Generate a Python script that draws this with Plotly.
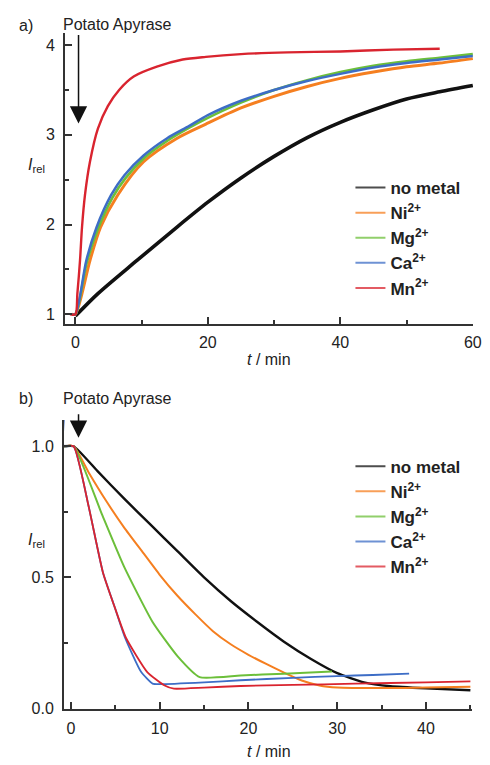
import plotly.graph_objects as go

W, H = 490, 765
FONT = "Liberation Sans, Arial, Helvetica, sans-serif"

names = ["no metal", "Ni<sup>2+</sup>", "Mg<sup>2+</sup>", "Ca<sup>2+</sup>", "Mn<sup>2+</sup>"]
colors = ["#111111", "#F57F20", "#6CBF3A", "#3D6DC6", "#D9242F"]

# ---------- panel a data (t / min, I_rel) ----------
a_black_t = [0, 3.4, 9.3, 15.3, 20, 25, 30, 35, 40, 45, 50, 55, 60]
a_black_v = [0.98, 1.23, 1.60, 1.97, 2.25, 2.52, 2.76, 2.97, 3.14, 3.28, 3.40, 3.48, 3.55]
a_ni_t = [-0.5, 0, 2.2, 3.8, 6.4, 10.3, 15.3, 19.7, 25, 30, 35, 40, 45, 50, 55, 60]
a_ni_v = [1.0, 1.0, 1.60, 1.97, 2.33, 2.70, 2.96, 3.12, 3.30, 3.43, 3.54, 3.63, 3.70, 3.76, 3.80, 3.85]
a_mg_t = [-0.5, 0, 1.7, 3.4, 5.6, 7.6, 10.5, 14, 17.2, 20, 25, 30, 35, 40, 45, 50, 55, 60]
a_mg_v = [1.0, 1.0, 1.57, 1.95, 2.30, 2.52, 2.75, 2.94, 3.08, 3.19, 3.36, 3.50, 3.61, 3.70, 3.77, 3.82, 3.86, 3.90]
a_ca_t = [-0.5, 0, 1.65, 3.2, 5.4, 7.4, 10.3, 13.8, 17.2, 20, 25, 30, 35, 40, 45, 50, 55, 60]
a_ca_v = [1.0, 1.0, 1.60, 1.97, 2.33, 2.55, 2.77, 2.96, 3.10, 3.22, 3.38, 3.50, 3.60, 3.68, 3.75, 3.80, 3.84, 3.88]
a_mn_t = [-0.8, 0, 0.3, 0.7, 1.0, 1.45, 2.2, 3.4, 4.9, 6.6, 8.8, 12.3, 16.2, 19.7, 25, 32, 40, 48, 55]
a_mn_v = [1.0, 1.0, 1.23, 1.60, 1.97, 2.33, 2.70, 3.07, 3.32, 3.50, 3.65, 3.76, 3.84, 3.87, 3.90, 3.92, 3.93, 3.95, 3.96]

# ---------- panel b data (t / min, I_rel) ----------
b_black_t = [-0.8, 0.3, 3, 6, 9, 12, 15, 18, 21, 24, 27, 30, 33, 36, 40, 45]
b_black_v = [1.0, 1.0, 0.905, 0.80, 0.70, 0.60, 0.50, 0.41, 0.33, 0.255, 0.19, 0.135, 0.10, 0.085, 0.077, 0.070]
b_ni_t = [-0.8, 0.3, 2, 4, 6, 8, 10, 12, 14, 16, 18, 20, 22, 24, 26, 28, 30, 35, 40, 45]
b_ni_v = [1.0, 1.0, 0.90, 0.79, 0.69, 0.60, 0.51, 0.43, 0.36, 0.295, 0.245, 0.205, 0.17, 0.137, 0.107, 0.088, 0.080, 0.078, 0.080, 0.083]
b_mg_t = [-0.8, 0.3, 3.5, 6.0, 9.2, 12.0, 14.5, 19.1, 24, 29.4]
b_mg_v = [1.0, 1.0, 0.74, 0.54, 0.33, 0.20, 0.12, 0.126, 0.133, 0.141]
b_ca_t = [-0.8, -0.8, 0.3, 2.0, 3.6, 4.9, 6.1, 7.9, 9.2, 10, 15, 19.1, 25, 30, 34, 38.1]
b_ca_v = [1.1, 1.0, 1.0, 0.77, 0.52, 0.39, 0.27, 0.14, 0.095, 0.093, 0.10, 0.108, 0.117, 0.124, 0.128, 0.133]
b_mn_t = [-0.8, 0.3, 2.0, 3.6, 5.0, 6.2, 8.6, 10.5, 11.6, 15, 19.1, 25, 32, 40, 45]
b_mn_v = [1.0, 1.0, 0.77, 0.52, 0.38, 0.27, 0.139, 0.089, 0.076, 0.080, 0.086, 0.090, 0.095, 0.100, 0.104]

a_series = [(a_black_t, a_black_v, 3.6), (a_ni_t, a_ni_v, 3.0), (a_mg_t, a_mg_v, 2.6),
            (a_ca_t, a_ca_v, 2.5), (a_mn_t, a_mn_v, 2.4)]
b_series = [(b_black_t, b_black_v, 2.4), (b_ni_t, b_ni_v, 2.0), (b_mg_t, b_mg_v, 2.0),
            (b_ca_t, b_ca_v, 1.8), (b_mn_t, b_mn_v, 1.8)]

fig = go.Figure()
for (t, v, w), n, c in zip(a_series, names, colors):
    fig.add_trace(go.Scatter(x=t, y=v, mode="lines", name=n, showlegend=False,
                             line=dict(color=c, width=w, shape="spline", smoothing=0.8),
                             xaxis="x", yaxis="y"))
for (t, v, w), n, c in zip(b_series, names, colors):
    fig.add_trace(go.Scatter(x=t, y=v, mode="lines", name=n, showlegend=False,
                             line=dict(color=c, width=w, shape="spline", smoothing=0.5),
                             xaxis="x2", yaxis="y2"))
# legend entries (thin key lines, as in the reference)
for leg, xa, ya in (("legend", "x", "y"), ("legend2", "x2", "y2")):
    for n, c in zip(names, colors):
        fig.add_trace(go.Scatter(x=[None], y=[None], mode="lines", name=n, legend=leg,
                                 line=dict(color=c, width=2), opacity=0.75,
                                 xaxis=xa, yaxis=ya, hoverinfo="skip"))

def X(px):
    return px / W

def Y(py):
    return 1 - py / H

axcommon = dict(showline=True, linecolor="#333333", linewidth=1.5, ticks="inside",
                ticklen=7, tickwidth=1.5, tickcolor="#333333", showgrid=False, zeroline=False,
                ticklabeloverflow="allow",
                tickfont=dict(family=FONT, size=16, color="#222222"))
minorstyle = dict(ticks="inside", ticklen=4, tickwidth=1.5, tickcolor="#333333")

legfont = dict(family=FONT, size=17, color="#222222", weight="bold")

fig.update_layout(
    width=W, height=H, margin=dict(l=0, r=0, t=0, b=0),
    paper_bgcolor="white", plot_bgcolor="white",
    font=dict(family=FONT, size=16, color="#222222"),
    xaxis=dict(domain=[X(66), X(482)], anchor="y", range=[-1.6, 60.05],
               tickvals=[0, 20, 40, 60], ticklabelstandoff=3,
               minor=dict(tickvals=[10, 30, 50], **minorstyle), **axcommon),
    yaxis=dict(domain=[Y(328), Y(33)], anchor="x", range=[0.89, 4.14],
               tickvals=[1, 2, 3, 4], ticklabelstandoff=5,
               minor=dict(tickvals=[1.5, 2.5, 3.5], **minorstyle), **axcommon),
    xaxis2=dict(domain=[X(65), X(481)], anchor="y2", range=[-0.8, 45.2],
                tickvals=[0, 10, 20, 30, 40], ticklabelstandoff=4,
                minor=dict(tickvals=[5, 15, 25, 35, 45], **minorstyle), **axcommon),
    yaxis2=dict(domain=[Y(717), Y(425)], anchor="x2", range=[0, 1.1],
                tickvals=[0, 0.5, 1.0], ticktext=["0.0", "0.5", "1.0"], ticklabelstandoff=5,
                minor=dict(tickvals=[0.25, 0.75], **minorstyle), **axcommon),
    legend=dict(x=X(357), y=Y(172), xanchor="left", yanchor="top", bgcolor="rgba(0,0,0,0)",
                font=legfont, itemwidth=30, tracegroupgap=0),
    legend2=dict(x=X(357), y=Y(454), xanchor="left", yanchor="top", bgcolor="rgba(0,0,0,0)",
                 font=legfont, itemwidth=30, tracegroupgap=0),
    showlegend=True,
    hovermode=False,
)

ann = []
ann.append(dict(text="a)", x=X(17), y=Y(26), xanchor="left", yanchor="middle"))
ann.append(dict(text="b)", x=X(17), y=Y(403), xanchor="left", yanchor="middle"))
ann.append(dict(text="Potato Apyrase", x=X(62), y=Y(25), xanchor="left", yanchor="middle"))
ann.append(dict(text="Potato Apyrase", x=X(62), y=Y(403), xanchor="left", yanchor="middle"))
for yy in (167, 547):
    ann.append(dict(text="<i>I</i><sub>rel</sub>", x=X(26), y=Y(yy), xanchor="left", yanchor="middle"))
for yy in (364, 760):
    ann.append(dict(text="<i>t</i> / min", x=X(250), y=Y(yy), xanchor="left", yanchor="middle"))
for a in ann:
    a.update(xref="paper", yref="paper", showarrow=False, font=dict(family=FONT, size=16, color="#222222"))

ann.append(dict(x=X(80), y=Y(125), xref="paper", yref="paper", ax=0, ay=-90, axref="pixel", ayref="pixel",
                showarrow=True, arrowhead=2, arrowsize=2.3, arrowwidth=1.5, arrowcolor="#111111", text=""))
ann.append(dict(x=X(80), y=Y(443), xref="paper", yref="paper", ax=0, ay=-25, axref="pixel", ayref="pixel",
                showarrow=True, arrowhead=2, arrowsize=2.3, arrowwidth=1.5, arrowcolor="#111111", text=""))
fig.update_layout(annotations=ann)

fig.write_html("out.html", config={"displayModeBar": False},
               post_script="document.body.style.margin='0px';document.body.style.overflow='hidden';")
